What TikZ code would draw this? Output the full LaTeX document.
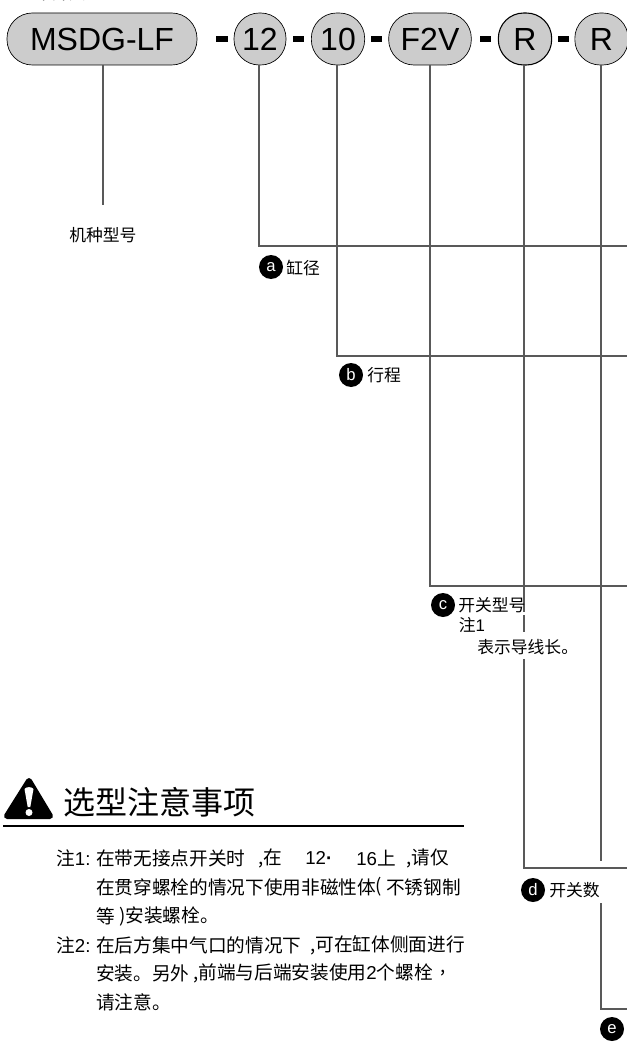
\documentclass[tikz,border=0pt]{standalone}
\usepackage{fontspec}
\setmainfont{Liberation Sans}
\newfontfamily\cjk{Noto Sans CJK SC}
\usetikzlibrary{calc}
\definecolor{pillgray}{HTML}{CCCCCC}
\definecolor{linegray}{HTML}{595959}
\tikzset{
  x=0.75pt,y=-0.75pt,
  pill/.style={draw=black,fill=pillgray,line width=0.5pt,rounded corners=19pt,minimum height=39pt,inner sep=0pt,font=\fontsize{24}{24}\selectfont},
  conn/.style={draw=linegray,line width=1.8pt},
  dashmark/.style={fill=black,draw=none,minimum width=8.5pt,minimum height=4.5pt,inner sep=0pt},
  badge/.style={circle,fill=black,text=white,minimum size=18pt,inner sep=0pt,font=\fontsize{12.5}{12.5}\selectfont},
  lab/.style={anchor=west,inner sep=0pt,font=\cjk\fontsize{12.6}{12.6}\selectfont},
  note/.style={anchor=west,inner sep=0pt,font=\cjk\fontsize{14}{14}\selectfont},
  plainnote/.style={anchor=west,inner sep=0pt,font=\fontsize{14}{14}\selectfont},
  title/.style={anchor=west,inner sep=0pt,font=\cjk\fontsize{24}{24}\selectfont}
}
\begin{document}
\begin{tikzpicture}
\useasboundingbox (0,0) rectangle (627,1059);
\fill[white] (0,0) rectangle (627,1059);
\begin{scope}
\clip (0,0) rectangle (627,1059);
\node[lab] (toptext) at (35,-7) {带开关型};
% top nodes
\node[pill,minimum width=142.5pt] (model) at (102,39) {MSDG-LF};
\node[pill,minimum width=39pt] (bore) at (260,39) {12};
\node[pill,minimum width=40pt] (stroke) at (338,39) {10};
\node[pill,minimum width=62pt] (sw) at (430,39) {F2V};
\node[pill,minimum width=40pt,line width=0.8pt] (r1) at (525,39) {R};
\node[pill,minimum width=40pt] (r2) at (601.5,39) {R};
\node[dashmark] (d1) at (222,39) {};
\node[dashmark] (d2) at (298.5,39) {};
\node[dashmark] (d3) at (376.5,39) {};
\node[dashmark] (d4) at (485.5,39) {};
\node[dashmark] (d5) at (563.5,39) {};
% free ends of connectors
\coordinate (me) at (103,205);
\coordinate (ea) at (627,246);
\coordinate (eb) at (627,356);
\coordinate (ec) at (627,586);
\coordinate (ed) at (627,868);
\coordinate (ee) at (627,1009);
\coordinate (r2stop) at (601,861);
\coordinate (r2go) at (601,903);
\coordinate (r1stopa) at (524,612);
\coordinate (r1goa) at (524,615);
\coordinate (r1stopb) at (524,632);
\coordinate (r1gob) at (524,659);
% connectors
\draw[conn] (103,65) -- (me);
\draw[conn] (259,65) |- (ea);
\draw[conn] (337,65) |- (eb);
\draw[conn] (430,65) |- (ec);
\draw[conn] (524,65) -- (r1stopa);
\draw[conn] (r1goa) -- (r1stopb);
\draw[conn] (r1gob) |- (ed);
\draw[conn] (601,65) -- (r2stop);
\draw[conn] (r2go) |- (ee);
% labels
\node[lab] (lmodel) at (69,235) {机种型号};
\node[badge] (ba) at (271,267) {a};
\node[lab] (la) at (286,268) {缸径};
\node[badge] (bb) at (351,375) {b};
\node[lab] (lb) at (367,375) {行程};
\node[badge] (bc) at (443,605) {c};
\node[lab] (lc) at (458,605) {开关型号};
\node[lab] (lc2) at (458.5,625) {注{\fontspec{Liberation Sans}1}};
\node[lab] (lc3) at (477,647) {表示导线长。};
\node[badge] (bd) at (533,890) {d};
\node[lab] (ld) at (549,890) {开关数};
\node[badge] (be) at (612,1029) {e};
% caution heading
\path[fill=black,draw=black,line width=4.5pt,line join=round] (29,781) -- (50,816) -- (7,816) -- cycle;
\fill[white] (24.5,789) .. controls (26,786.5) and (32,786.5) .. (33.5,789) -- (30.3,807) -- (27.7,807) -- cycle;
\fill[white] (29,812.5) circle (3.5);
\node[title] (head) at (63,802) {选型注意事项};
\draw[black,line width=1pt] (3,826) -- (464,826);
% notes
\node[note] (n1a) at (56,858) {注{\fontspec{Liberation Sans}1:}};
\node[note] (n1b) at (96,858) {在带无接点开关时};
\node[note] (n1c) at (258,858) {,在};
\node[plainnote] (n1d) at (305,858) {12\textbf{·}};
\node[plainnote] (n1e) at (356,858) {16{\cjk 上}};
\node[note] (n1f) at (406,858) {,请仅};
\node[note] (n2a) at (96,887) {在贯穿螺栓的情况下使用非磁性体};
\node[note] (n2b) at (375.5,887) {(};
\node[note] (n2c) at (386,887) {不锈钢制};
\node[note] (n3a) at (96,916) {等};
\node[note] (n3b) at (119,916) {)安装螺栓。};
\node[note] (n4a) at (56,945) {注{\fontspec{Liberation Sans}2:}};
\node[note] (n4b) at (96,945) {在后方集中气口的情况下};
\node[note] (n4c) at (310,945) {,可在缸体侧面进行};
\node[note] (n5a) at (96,973) {安装。另外};
\node[note] (n5b) at (193,973) {,前端与后端安装使用{\fontspec{Liberation Sans}2}个螺栓};
\node[note] (n5c) at (440,973) {,};
\node[note] (n6) at (96,1002) {请注意。};
\end{scope}
\end{tikzpicture}
\end{document}
